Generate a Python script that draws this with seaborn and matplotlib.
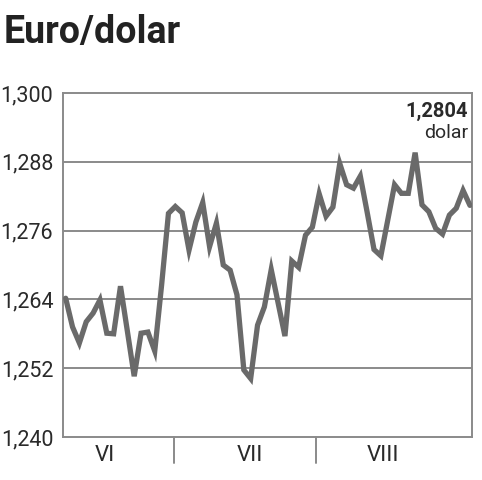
import matplotlib
matplotlib.use("Agg")
import matplotlib.pyplot as plt
import seaborn as sns
import pandas as pd
import numpy as np

title = "Euro/dolar"
values = [1.2642, 1.2592, 1.2564, 1.2601, 1.2616, 1.2639, 1.2581, 1.2580, 1.2663, 1.2585,
          1.2506, 1.2581, 1.2583, 1.2550, 1.2665, 1.2790, 1.2802, 1.2791, 1.2726, 1.2775,
          1.2809, 1.2732, 1.2773, 1.2700, 1.2691, 1.2648, 1.2517, 1.2502, 1.2595, 1.2627,
          1.2692, 1.2634, 1.2576, 1.2707, 1.2696, 1.2752, 1.2766, 1.2824, 1.2785, 1.2801,
          1.2877, 1.2840, 1.2834, 1.2855, 1.2792, 1.2727, 1.2716, 1.2778, 1.2840, 1.2825,
          1.2825, 1.2896, 1.2805, 1.2793, 1.2764, 1.2754, 1.2787, 1.2799, 1.2830, 1.2804]
y_ticks = [1.240, 1.252, 1.264, 1.276, 1.288, 1.300]
y_tick_labels = ["1,240", "1,252", "1,264", "1,276", "1,288", "1,300"]
months = ["VI", "VII", "VIII"]
month_label_pos = [5.75, 26.9, 46.3]
month_bounds = [15.8, 36.5]
last_label = "1,2804"
unit_label = "dolar"

df = pd.DataFrame({"day": np.arange(len(values)), "rate": values})

sns.set_style("white")
plt.rcParams["font.family"] = ["Roboto", "DejaVu Sans"]

fig = plt.figure(figsize=(4.82, 4.80), dpi=100)
ax = fig.add_axes([63/482, 1-437/480, (472-63)/482, (437-93)/480])

grid_c = "#8a8a8a"
for yt in y_ticks[1:-1]:
    ax.axhline(yt, color=grid_c, lw=1.4, zorder=1)

sns.lineplot(data=df, x="day", y="rate", ax=ax, color="#6a6a6a", lw=3.8,
             solid_joinstyle="miter", zorder=3)

ax.set_xlim(-0.39, 59.3)
ax.set_ylim(1.240, 1.300)
ax.set_yticks(y_ticks)
ax.set_yticklabels(y_tick_labels, fontsize=15.5, color="#2a2a2a")
ax.tick_params(axis="y", length=0, pad=7)
ax.set_xticks([])
ax.set_xlabel("")
ax.set_ylabel("")
for s in ax.spines.values():
    s.set_color(grid_c)
    s.set_linewidth(1.4)

trans = ax.get_xaxis_transform()
for b in month_bounds:
    ax.plot([b, b], [0, -0.075], transform=trans, color=grid_c, lw=1.4, clip_on=False)
for m, p in zip(months, month_label_pos):
    ax.text(p, -0.055, m, transform=trans, ha="center", va="center",
            fontsize=16, color="#2a2a2a")

ax.text(0.99, 0.975, last_label, transform=ax.transAxes, ha="right", va="top",
        fontsize=14.5, fontweight="bold", color="#2a2a2a")
ax.text(0.99, 0.91, unit_label, transform=ax.transAxes, ha="right", va="top",
        fontsize=14, color="#2a2a2a")

fig.text(4/482, 1-43/480, title, ha="left", va="baseline", fontsize=27,
         fontweight="bold", color="#222222", family=["Roboto", "DejaVu Sans"])

fig.savefig("out.png", dpi=100, facecolor="white")
